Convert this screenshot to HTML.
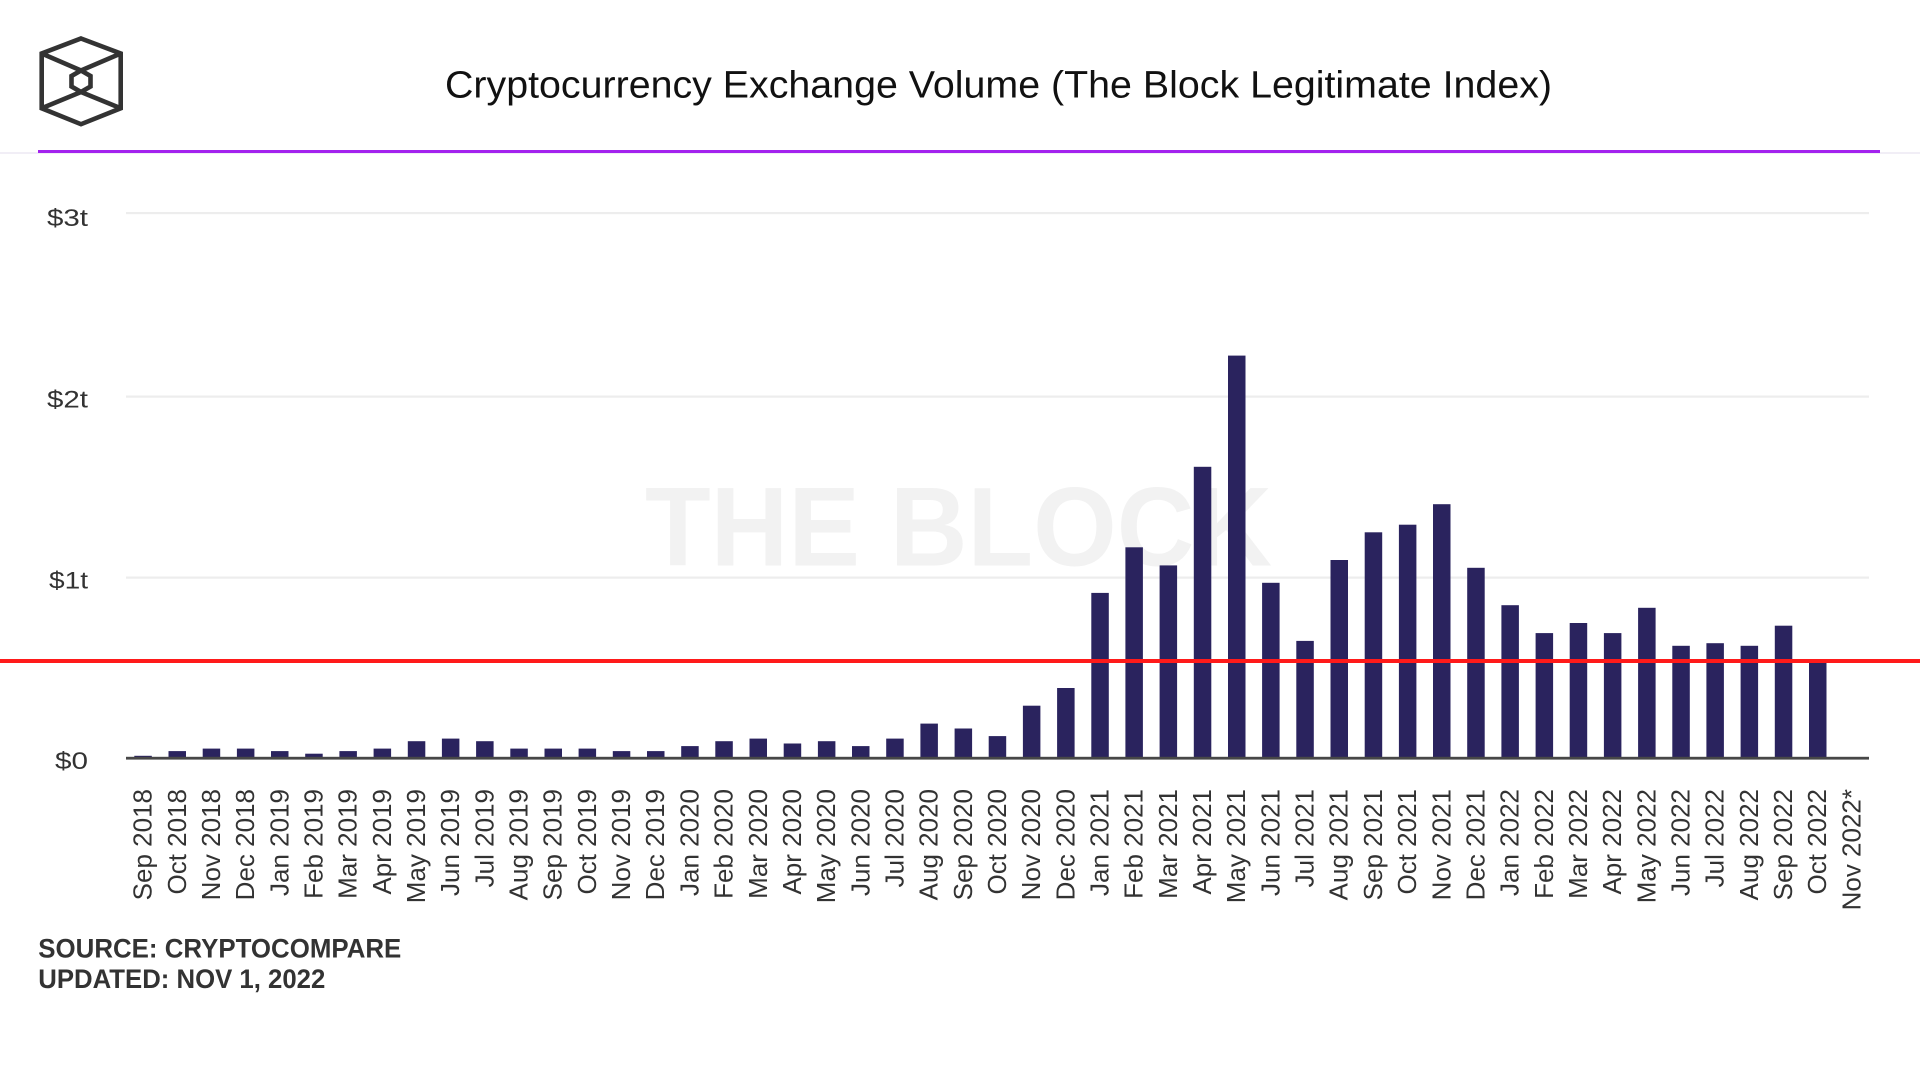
<!DOCTYPE html>
<html>
<head>
<meta charset="utf-8">
<style>
html,body{margin:0;padding:0;background:#fff;width:1920px;height:1080px;overflow:hidden;}
svg{display:block;}
text{font-family:"Liberation Sans",Arial,sans-serif;}
</style>
</head>
<body>
<svg width="1920" height="1080" viewBox="0 0 1920 1080" xmlns="http://www.w3.org/2000/svg">
<rect width="1920" height="1080" fill="#fff"/>

<!-- Logo -->
<g fill="none" stroke="#333" stroke-width="4.6" stroke-linejoin="miter">
  <polygon points="81,38.5 120.7,53.5 120.7,108.3 81,124.2 41.7,108.3 41.7,53.5"/>
  <polygon points="81,70.5 90.5,76 90.5,86.5 81,92 71.5,86.5 71.5,76"/>
  <polyline points="41.7,53.5 81,70.5 120.7,53.5"/>
  <polyline points="41.7,108.3 81,92 120.7,108.3"/>
</g>

<!-- Title -->
<text x="445" y="97.5" font-size="38" fill="#111" textLength="1107" lengthAdjust="spacingAndGlyphs">Cryptocurrency Exchange Volume (The Block Legitimate Index)</text>

<!-- header separator -->
<rect x="0" y="152" width="1920" height="2" fill="#f1eef6"/>
<rect x="38" y="150" width="1842" height="3" fill="#a322ee"/>

<!-- gridlines -->
<g fill="#ededed">
  <rect x="126" y="212" width="1743" height="2.2"/>
  <rect x="126" y="395.5" width="1743" height="2.2"/>
  <rect x="126" y="576.5" width="1743" height="2.2"/>
</g>

<!-- y labels -->
<g font-size="24.5" fill="#333" text-anchor="end">
  <text x="88" y="226" textLength="41" lengthAdjust="spacingAndGlyphs">$3t</text>
  <text x="88" y="407.5" textLength="41" lengthAdjust="spacingAndGlyphs">$2t</text>
  <text x="88" y="588.5" textLength="39" lengthAdjust="spacingAndGlyphs">$1t</text>
  <text x="88" y="769" textLength="33" lengthAdjust="spacingAndGlyphs">$0</text>
</g>

<!-- watermark -->
<text x="645" y="565.7" font-size="112" font-weight="bold" fill="#f2f2f2" textLength="627" lengthAdjust="spacingAndGlyphs">THE BLOCK</text>

<!-- bars -->
<g transform="translate(0,758) scale(1,-1)" fill="#2a235e">
<rect x="134.3" y="0" width="17.5" height="2.2"/>
<rect x="168.5" y="0" width="17.5" height="6.9"/>
<rect x="202.7" y="0" width="17.5" height="9.4"/>
<rect x="236.9" y="0" width="17.5" height="9.4"/>
<rect x="271.0" y="0" width="17.5" height="6.9"/>
<rect x="305.2" y="0" width="17.5" height="4.3"/>
<rect x="339.4" y="0" width="17.5" height="6.9"/>
<rect x="373.6" y="0" width="17.5" height="9.4"/>
<rect x="407.8" y="0" width="17.5" height="16.8"/>
<rect x="441.9" y="0" width="17.5" height="19.4"/>
<rect x="476.1" y="0" width="17.5" height="16.8"/>
<rect x="510.3" y="0" width="17.5" height="9.4"/>
<rect x="544.5" y="0" width="17.5" height="9.4"/>
<rect x="578.6" y="0" width="17.5" height="9.4"/>
<rect x="612.8" y="0" width="17.5" height="6.9"/>
<rect x="647.0" y="0" width="17.5" height="6.9"/>
<rect x="681.2" y="0" width="17.5" height="11.9"/>
<rect x="715.3" y="0" width="17.5" height="16.8"/>
<rect x="749.5" y="0" width="17.5" height="19.4"/>
<rect x="783.7" y="0" width="17.5" height="14.5"/>
<rect x="817.9" y="0" width="17.5" height="16.8"/>
<rect x="852.0" y="0" width="17.5" height="11.9"/>
<rect x="886.2" y="0" width="17.5" height="19.4"/>
<rect x="920.4" y="0" width="17.5" height="34.4"/>
<rect x="954.6" y="0" width="17.5" height="29.5"/>
<rect x="988.7" y="0" width="17.5" height="21.9"/>
<rect x="1022.9" y="0" width="17.5" height="52.3"/>
<rect x="1057.1" y="0" width="17.5" height="70.0"/>
<rect x="1091.3" y="0" width="17.5" height="165.1"/>
<rect x="1125.4" y="0" width="17.5" height="210.7"/>
<rect x="1159.6" y="0" width="17.5" height="192.6"/>
<rect x="1193.8" y="0" width="17.5" height="291.2"/>
<rect x="1228.0" y="0" width="17.5" height="402.4"/>
<rect x="1262.1" y="0" width="17.5" height="175.2"/>
<rect x="1296.3" y="0" width="17.5" height="117.1"/>
<rect x="1330.5" y="0" width="17.5" height="198.0"/>
<rect x="1364.7" y="0" width="17.5" height="225.7"/>
<rect x="1398.9" y="0" width="17.5" height="233.3"/>
<rect x="1433.0" y="0" width="17.5" height="253.8"/>
<rect x="1467.2" y="0" width="17.5" height="190.2"/>
<rect x="1501.4" y="0" width="17.5" height="152.8"/>
<rect x="1535.6" y="0" width="17.5" height="124.9"/>
<rect x="1569.7" y="0" width="17.5" height="135.0"/>
<rect x="1603.9" y="0" width="17.5" height="124.9"/>
<rect x="1638.1" y="0" width="17.5" height="150.2"/>
<rect x="1672.3" y="0" width="17.5" height="112.2"/>
<rect x="1706.4" y="0" width="17.5" height="114.8"/>
<rect x="1740.6" y="0" width="17.5" height="112.2"/>
<rect x="1774.8" y="0" width="17.5" height="132.3"/>
<rect x="1809.0" y="0" width="17.5" height="96.8"/>
</g>

<!-- baseline -->
<rect x="126" y="756.8" width="1743" height="2.8" fill="#474747"/>

<!-- red line -->
<rect x="0" y="659" width="1920" height="4" fill="#ff1a1a"/>

<!-- x labels -->
<g font-size="26" fill="#333" text-anchor="end">
<text transform="translate(151.6,789) rotate(-90)">Sep 2018</text>
<text transform="translate(185.8,789) rotate(-90)">Oct 2018</text>
<text transform="translate(219.9,789) rotate(-90)">Nov 2018</text>
<text transform="translate(254.1,789) rotate(-90)">Dec 2018</text>
<text transform="translate(288.3,789) rotate(-90)">Jan 2019</text>
<text transform="translate(322.5,789) rotate(-90)">Feb 2019</text>
<text transform="translate(356.6,789) rotate(-90)">Mar 2019</text>
<text transform="translate(390.8,789) rotate(-90)">Apr 2019</text>
<text transform="translate(425.0,789) rotate(-90)">May 2019</text>
<text transform="translate(459.2,789) rotate(-90)">Jun 2019</text>
<text transform="translate(493.3,789) rotate(-90)">Jul 2019</text>
<text transform="translate(527.5,789) rotate(-90)">Aug 2019</text>
<text transform="translate(561.7,789) rotate(-90)">Sep 2019</text>
<text transform="translate(595.9,789) rotate(-90)">Oct 2019</text>
<text transform="translate(630.0,789) rotate(-90)">Nov 2019</text>
<text transform="translate(664.2,789) rotate(-90)">Dec 2019</text>
<text transform="translate(698.4,789) rotate(-90)">Jan 2020</text>
<text transform="translate(732.6,789) rotate(-90)">Feb 2020</text>
<text transform="translate(766.8,789) rotate(-90)">Mar 2020</text>
<text transform="translate(800.9,789) rotate(-90)">Apr 2020</text>
<text transform="translate(835.1,789) rotate(-90)">May 2020</text>
<text transform="translate(869.3,789) rotate(-90)">Jun 2020</text>
<text transform="translate(903.5,789) rotate(-90)">Jul 2020</text>
<text transform="translate(937.6,789) rotate(-90)">Aug 2020</text>
<text transform="translate(971.8,789) rotate(-90)">Sep 2020</text>
<text transform="translate(1006.0,789) rotate(-90)">Oct 2020</text>
<text transform="translate(1040.2,789) rotate(-90)">Nov 2020</text>
<text transform="translate(1074.3,789) rotate(-90)">Dec 2020</text>
<text transform="translate(1108.5,789) rotate(-90)">Jan 2021</text>
<text transform="translate(1142.7,789) rotate(-90)">Feb 2021</text>
<text transform="translate(1176.9,789) rotate(-90)">Mar 2021</text>
<text transform="translate(1211.0,789) rotate(-90)">Apr 2021</text>
<text transform="translate(1245.2,789) rotate(-90)">May 2021</text>
<text transform="translate(1279.4,789) rotate(-90)">Jun 2021</text>
<text transform="translate(1313.6,789) rotate(-90)">Jul 2021</text>
<text transform="translate(1347.7,789) rotate(-90)">Aug 2021</text>
<text transform="translate(1381.9,789) rotate(-90)">Sep 2021</text>
<text transform="translate(1416.1,789) rotate(-90)">Oct 2021</text>
<text transform="translate(1450.3,789) rotate(-90)">Nov 2021</text>
<text transform="translate(1484.5,789) rotate(-90)">Dec 2021</text>
<text transform="translate(1518.6,789) rotate(-90)">Jan 2022</text>
<text transform="translate(1552.8,789) rotate(-90)">Feb 2022</text>
<text transform="translate(1587.0,789) rotate(-90)">Mar 2022</text>
<text transform="translate(1621.2,789) rotate(-90)">Apr 2022</text>
<text transform="translate(1655.3,789) rotate(-90)">May 2022</text>
<text transform="translate(1689.5,789) rotate(-90)">Jun 2022</text>
<text transform="translate(1723.7,789) rotate(-90)">Jul 2022</text>
<text transform="translate(1757.9,789) rotate(-90)">Aug 2022</text>
<text transform="translate(1792.0,789) rotate(-90)">Sep 2022</text>
<text transform="translate(1826.2,789) rotate(-90)">Oct 2022</text>
<text transform="translate(1860.4,789) rotate(-90)">Nov 2022*</text>
</g>

<!-- footer -->
<g font-size="27" font-weight="bold" fill="#333">
  <text x="38.3" y="957.5" textLength="363" lengthAdjust="spacingAndGlyphs">SOURCE: CRYPTOCOMPARE</text>
  <text x="38.3" y="988" textLength="287" lengthAdjust="spacingAndGlyphs">UPDATED: NOV 1, 2022</text>
</g>
</svg>
</body>
</html>
